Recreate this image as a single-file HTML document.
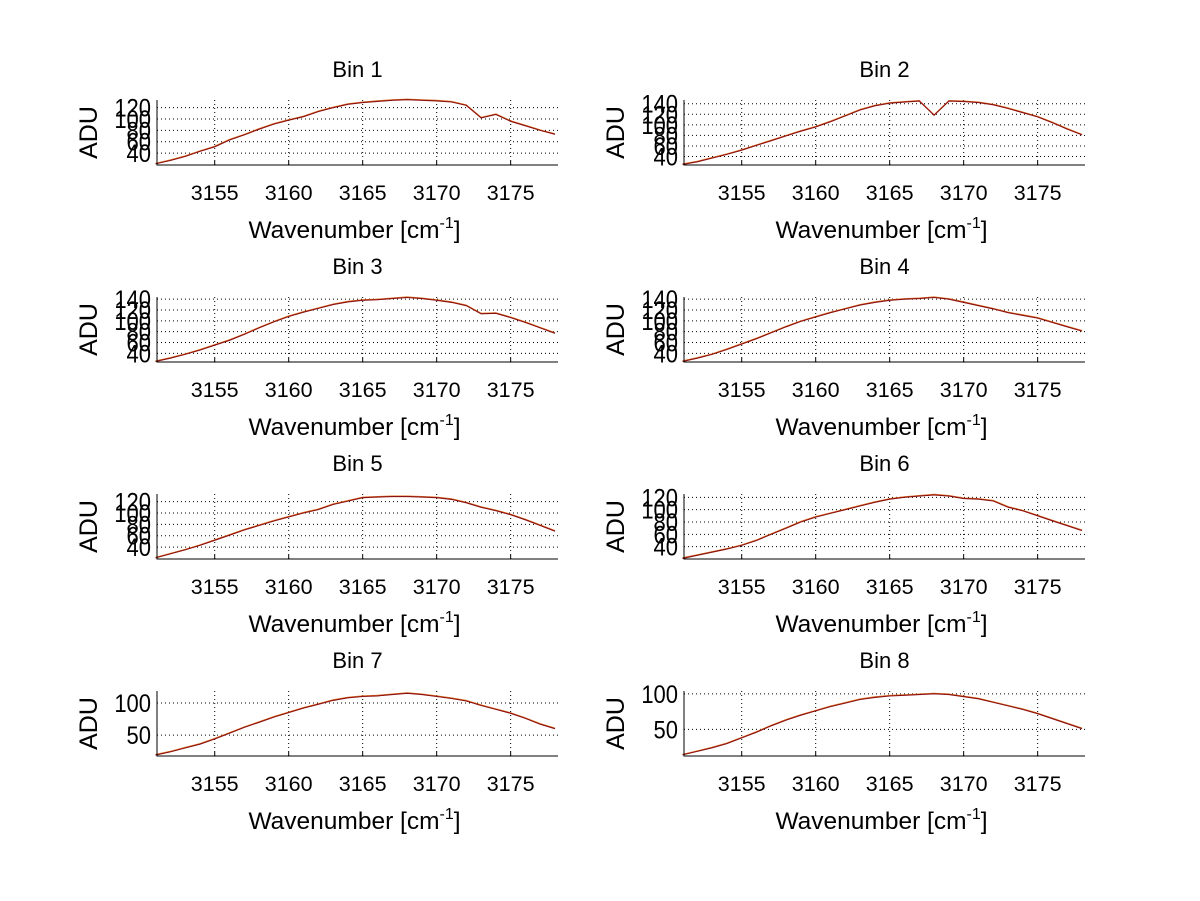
<!DOCTYPE html>
<html><head><meta charset="utf-8"><style>
html,body{margin:0;padding:0;background:#fff;}
svg{display:block;font-family:"Liberation Sans",Arial,sans-serif;}
</style></head><body>
<svg id="fig" width="1200" height="901" viewBox="0 0 1200 901" xmlns="http://www.w3.org/2000/svg">
<rect x="0" y="0" width="1200" height="901" fill="#fff"/>
</svg>
<script>
const wavenumbers = [3151,3152,3153,3154,3155,3156,3157,3158,3159,3160,3161,3162,3163,3164,3165,3166,3167,3168,3169,3170,3171,3172,3173,3174,3175,3176,3177,3178];
const xTicks = [3155,3160,3165,3170,3175];
const bin1 = [21,27,34,43,51,63,72,82,91,98,104,113,120,126,129,131,133,134,133,132,130,124,102,108,96,88,80,73];
const bin2 = [25,30,37,44,52,61,70,79,88,96,106,117,128,136,141,143,145,118,145,144,142,138,131,123,115,104,92,81];
const bin3 = [25,31,38,46,55,64,75,87,98,108,116,123,130,135,138,139,141,143,141,138,134,128,113,114,106,97,87,77];
const bin4 = [25,31,38,47,57,67,78,89,99,107,115,122,129,134,138,140,141,143,140,134,128,122,115,110,105,97,89,81];
const bin5 = [21,28,35,43,52,61,70,78,86,93,100,106,115,121,127,128,129,129,128,127,124,118,110,104,97,88,78,68];
const bin6 = [21,26,31,36,42,50,60,70,80,88,94,100,106,112,117,120,122,124,122,118,117,114,104,98,90,82,74,66];
const bin7 = [19,24,30,36,44,53,62,70,78,85,92,98,104,108,110,111,113,115,113,110,107,103,96,90,84,76,67,60];
const bin8 = [14,19,24,30,38,46,55,63,70,76,82,87,92,95,97,98,99,100,99,96,93,88,83,78,72,65,58,51];
const series = [bin1,bin2,bin3,bin4,bin5,bin6,bin7,bin8];
const yLimLo = [19,24,24,24,19,20,17.6,12.5];
const yLimHi = [133.5,147,144,144,133.5,125.4,118.6,104];
const yTicks1 = [40,60,80,100,120];
const yTicks2 = [40,60,80,100,120,140];
const yTicks7 = [50,100];
const yTickSets = [yTicks1,yTicks2,yTicks2,yTicks2,yTicks1,yTicks1,yTicks7,yTicks7];

const NS = "http://www.w3.org/2000/svg";
const svg = document.getElementById('fig');
const XMIN = 3151.1, XMAX = 3178.2;
function mk(tag, attrs, parent){
  const e = document.createElementNS(NS, tag);
  for (const k in attrs) e.setAttribute(k, attrs[k]);
  parent.appendChild(e);
  return e;
}
for (let i = 0; i < 8; i++) {
  const col = i % 2, row = Math.floor(i / 2);
  const L = col ? 684 : 157, R = col ? 1085 : 558;
  const B = 165 + row * 197, T = B - 65;
  const xs = v => L + (v - XMIN) / (XMAX - XMIN) * (R - L);
  const ys = v => B - (v - yLimLo[i]) / (yLimHi[i] - yLimLo[i]) * (B - T);
  const g = mk('g', {}, svg);
  
  
  xTicks.forEach(t => {
    const l = mk('line', {x1: xs(t), x2: xs(t), y1: T, y2: B, stroke: '#000', 'stroke-width': 1, 'stroke-dasharray': '1,3'}, g);
    
    
    const tk = mk('line', {x1: xs(t), x2: xs(t), y1: B, y2: B - 4, stroke: '#000'}, g);
    
    
    const tl = mk('text', {x: xs(t), y: B + 35, 'font-size': 21.5, 'text-anchor': 'middle', fill: '#000'}, g);
    tl.textContent = t;
    
    
  });
  yTickSets[i].forEach(t => {
    const l = mk('line', {x1: L, x2: R, y1: ys(t), y2: ys(t), stroke: '#000', 'stroke-width': 1, 'stroke-dasharray': '1,3'}, g);
    
    
    const tl = mk('text', {x: 0, y: 0, 'font-size': 25, 'text-anchor': 'end', fill: '#000', transform: 'translate(' + (L - 6) + ',' + (ys(t) + 9) + ') scale(0.88,1)'}, g);
    tl.textContent = t;
    
    
  });
  const pts = series[i].map((v, k) => xs(wavenumbers[k]).toFixed(1) + ',' + ys(v).toFixed(1)).join(' ');
  const pl2 = mk('polyline', {points: pts, fill: 'none', stroke: '#e07020', 'stroke-width': 1, transform: 'translate(0,-0.6)'}, g);
  
  
  const pl = mk('polyline', {points: pts, fill: 'none', stroke: '#8b1010', 'stroke-width': 1.1}, g);
  
  
  const ax = mk('polyline', {points: L + ',' + T + ' ' + L + ',' + B + ' ' + R + ',' + B, fill: 'none', stroke: '#000', 'stroke-width': 1}, g);
  
  
  const ti = mk('text', {x: (L + R) / 2, y: T - 23, 'font-size': 22, 'text-anchor': 'middle', fill: '#000'}, g);
  ti.textContent = 'Bin ' + (i + 1);
  
  
  const yl = mk('text', {x: 0, y: 0, 'font-size': 25, 'text-anchor': 'middle', fill: '#000', transform: 'translate(' + (L - 60) + ',' + ((T + B) / 2) + ') rotate(-90)'}, g);
  yl.textContent = 'ADU';
  
  
  const xl = mk('text', {x: (L + R) / 2 - 3, y: B + 73, 'font-size': 24.5, 'text-anchor': 'middle', fill: '#000'}, g);
  
  
  const s1 = mk('tspan', {}, xl); s1.textContent = 'Wavenumber [cm';
  const s2 = mk('tspan', {dy: -10, 'font-size': 16}, xl); s2.textContent = '-1';
  const s3 = mk('tspan', {dy: 10}, xl); s3.textContent = ']';
}
</script>
</body></html>
